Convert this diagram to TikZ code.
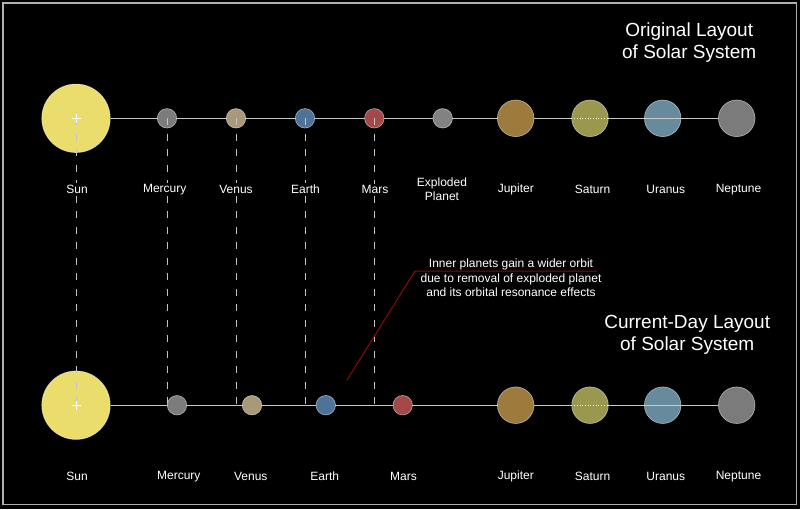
\documentclass[tikz,border=0pt]{standalone}
\usepackage{fontspec}
\setmainfont{Liberation Sans}
\pgfdeclarelayer{back}
\pgfdeclarelayer{lines}
\pgfsetlayers{back,lines,main}
\definecolor{sunc}{HTML}{EADD6C}
\definecolor{mercc}{HTML}{7C7C7C}
\definecolor{venc}{HTML}{A89A78}
\definecolor{earthc}{HTML}{4F7398}
\definecolor{marsc}{HTML}{A44848}
\definecolor{expc}{HTML}{828282}
\definecolor{jupc}{HTML}{9C7B3C}
\definecolor{satc}{HTML}{9A984F}
\definecolor{uranc}{HTML}{678A9C}
\definecolor{nepc}{HTML}{7B7B7B}
\definecolor{linec}{HTML}{C8C8C8}
\definecolor{dashc}{HTML}{C4C4C4}
\definecolor{framec}{HTML}{B0B0B0}
\definecolor{notec}{HTML}{8B0A0A}
\begin{document}
\begin{tikzpicture}[x=1pt,y=-1pt,
  planet/.style={circle, inner sep=0pt, draw=white, draw opacity=0.55, line width=0.6pt},
  sunbody/.style={planet, fill=sunc, minimum size=68.5pt},
  small/.style={planet, minimum size=19.5pt},
  big/.style={planet, minimum size=36.6pt},
  lbl/.style={text=white, font=\fontsize{12}{14}\selectfont, fill=black, inner sep=1.5pt, anchor=base},
  lbltwo/.style={text=white, font=\fontsize{12}{14}\selectfont, fill=black, inner sep=1.5pt, align=center},
  dashline/.style={draw=dashc, line width=0.8pt, dash pattern=on 7pt off 8.5pt},
  orbit/.style={draw=linec, line width=0.9pt},
  crossmark/.style={draw=white, line width=0.7pt},
  title/.style={text=white, font=\fontsize{19}{22}\selectfont, align=center, inner sep=0pt},
  note/.style={text=white, font=\fontsize{12}{14.2}\selectfont, align=center, inner sep=0pt},
  noteline/.style={draw=notec, line width=1pt}
]
\useasboundingbox (0,0) rectangle (800,509);
\begin{pgfonlayer}{back}
  \fill[black] (0,0) rectangle (800,509);
  \draw[framec, line width=1.5pt] (3,3) rectangle (796.5,504.5);
\end{pgfonlayer}

% top row planets
\node[sunbody] (sunA) at (76,118.3) {};
\node[small, fill=mercc] (merA) at (167,118.3) {};
\node[small, fill=venc] (venA) at (236,118.3) {};
\node[small, fill=earthc] (earA) at (305,118.3) {};
\node[small, fill=marsc] (marA) at (374.3,118.3) {};
\node[small, fill=expc] (expA) at (442.7,118.3) {};
\node[big, fill=jupc] (jupA) at (515.7,118.3) {};
\node[big, fill=satc] (satA) at (590,118.3) {};
\node[big, fill=uranc] (uraA) at (662.7,118.3) {};
\node[big, fill=nepc] (nepA) at (736.7,118.3) {};

% bottom row planets
\node[sunbody] (sunB) at (76,405.2) {};
\node[small, fill=mercc] (merB) at (177,405.2) {};
\node[small, fill=venc] (venB) at (252,405.2) {};
\node[small, fill=earthc] (earB) at (325.8,405.2) {};
\node[small, fill=marsc] (marB) at (402.7,405.2) {};
\node[big, fill=jupc] (jupB) at (515.7,405.2) {};
\node[big, fill=satc] (satB) at (590,405.2) {};
\node[big, fill=uranc] (uraB) at (662.7,405.2) {};
\node[big, fill=nepc] (nepB) at (736.7,405.2) {};

% orbit lines behind planets
\begin{pgfonlayer}{lines}
  \draw[orbit] (sunA.east) -- (nepA.west);
  \draw[orbit] (sunB.east) -- (nepB.west);
\end{pgfonlayer}
\draw[draw=white!80!yellow, line width=0.7pt, dotted] (satA.west) -- (satA.east);
\draw[draw=linec, line width=0.7pt] (uraA.west) -- (uraA.east);
\draw[draw=white!80!yellow, line width=0.7pt, dotted] (satB.west) -- (satB.east);
\draw[draw=linec, line width=0.7pt] (uraB.west) -- (uraB.east);

% drop lines
\coordinate (merEnd) at (167,405.2);
\coordinate (venEnd) at (236,405.2);
\coordinate (earEnd) at (305,405.2);
\coordinate (marEnd) at (374.3,405.2);
\draw[dashline] (sunA.center) -- (sunB.center);
\draw[dashline] (merA.center) -- (merEnd);
\draw[dashline] (venA.center) -- (venEnd);
\draw[dashline] (earA.center) -- (earEnd);
\draw[dashline] (marA.center) -- (marEnd);

% sun crosses
\draw[crossmark] ([xshift=-4.5pt]sunA.center) -- ([xshift=4.5pt]sunA.center);
\draw[crossmark] ([yshift=-4.5pt]sunA.center) -- ([yshift=4.5pt]sunA.center);
\draw[crossmark] ([xshift=-4.5pt]sunB.center) -- ([xshift=4.5pt]sunB.center);
\draw[crossmark] ([yshift=-4.5pt]sunB.center) -- ([yshift=4.5pt]sunB.center);

% top labels
\node[lbl] (lSunA) at (77,193) {Sun};
\node[lbl] (lMerA) at (164.7,192.5) {Mercury};
\node[lbl] (lVenA) at (236,193) {Venus};
\node[lbl] (lEarA) at (305.5,193.5) {Earth};
\node[lbl] (lMarA) at (375,193.5) {Mars};
\node[lbltwo] (lExpA) at (442,189.1) {Exploded\\Planet};
\node[lbl] (lJupA) at (515.8,192.5) {Jupiter};
\node[lbl] (lSatA) at (592.5,193.8) {Saturn};
\node[lbl] (lUraA) at (665.8,193.8) {Uranus};
\node[lbl] (lNepA) at (738.5,192.6) {Neptune};

% bottom labels
\node[lbl] (lSunB) at (77,480.5) {Sun};
\node[lbl] (lMerB) at (178.8,479) {Mercury};
\node[lbl] (lVenB) at (250.8,480.5) {Venus};
\node[lbl] (lEarB) at (324.8,480.5) {Earth};
\node[lbl] (lMarB) at (403.5,480.5) {Mars};
\node[lbl] (lJupB) at (515.8,479) {Jupiter};
\node[lbl] (lSatB) at (592.5,480.5) {Saturn};
\node[lbl] (lUraB) at (665.8,480.5) {Uranus};
\node[lbl] (lNepB) at (738.5,479) {Neptune};

% titles
\node[title] (titleA) at (689.2,42.5) {Original Layout\\of Solar System};
\node[title] (titleB) at (687.2,335.3) {Current-Day Layout\\of Solar System};

% annotation
\node[note] (noteText) at (511,277.8) {Inner planets gain a wider orbit\\due to removal of exploded planet\\and its orbital resonance effects};
\coordinate (noteTip) at (347,380);
\coordinate (noteBend) at (415,271);
\coordinate (noteEnd) at (597,271);
\draw[noteline] (noteTip) -- (noteBend) -- (noteEnd);
\end{tikzpicture}
\end{document}
